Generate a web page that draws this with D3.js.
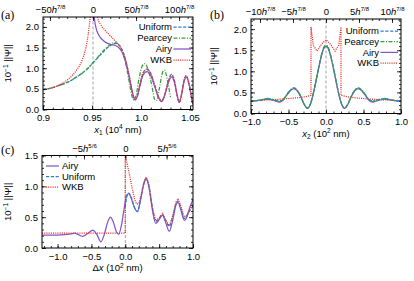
<!DOCTYPE html>
<html><head><meta charset="utf-8">
<script src="https://cdn.jsdelivr.net/npm/d3@7"></script>
<style>body{margin:0;background:#fff} text{font-family:"Liberation Sans",Arial,sans-serif}</style>
</head><body><svg id="c" width="414" height="281"></svg>
<script>
// ---------- Panel (a) data: x1 in 10^4 nm, y = 10^-1 ||Psi|| ----------
const aUniform = [[0.900,0.48],[0.905,0.50],[0.910,0.53],[0.915,0.57],[0.920,0.61],[0.925,0.66],[0.930,0.72],[0.935,0.80],[0.940,0.88],[0.945,0.98],[0.950,1.10],[0.955,1.23],[0.960,1.36],[0.965,1.48],[0.970,1.57],[0.974,1.60],[0.978,1.55],[0.982,1.37],[0.986,1.03],[0.989,0.68],[0.992,0.34],[0.994,0.24],[0.996,0.32],[0.999,0.62],[1.002,0.88],[1.006,0.98],[1.010,0.87],[1.014,0.58],[1.018,0.30],[1.021,0.20],[1.024,0.35],[1.028,0.70],[1.031,0.85],[1.034,0.70],[1.037,0.33],[1.039,0.17],[1.041,0.33],[1.044,0.72],[1.046,0.82],[1.049,0.62],[1.052,0.22],[1.053,0.12]];
const aPearcey = [[0.900,0.48],[0.905,0.50],[0.910,0.53],[0.915,0.57],[0.920,0.61],[0.925,0.66],[0.930,0.72],[0.935,0.80],[0.940,0.88],[0.945,0.98],[0.950,1.11],[0.955,1.24],[0.960,1.38],[0.965,1.50],[0.970,1.59],[0.973,1.62],[0.977,1.58],[0.981,1.40],[0.985,1.04],[0.988,0.66],[0.991,0.30],[0.993,0.22],[0.995,0.35],[0.998,0.75],[1.001,1.04],[1.004,1.11],[1.007,0.98],[1.011,0.58],[1.014,0.24],[1.016,0.22],[1.019,0.55],[1.022,0.90],[1.024,0.95],[1.027,0.70],[1.030,0.30]];
const aAiry = [[0.9515,2.40],[0.953,2.10],[0.955,1.90],[0.958,1.76],[0.962,1.66],[0.966,1.60],[0.970,1.57],[0.974,1.55],[0.978,1.48],[0.982,1.32],[0.986,1.00],[0.989,0.66],[0.992,0.33],[0.994,0.23],[0.996,0.30],[0.999,0.58],[1.002,0.83],[1.006,0.92],[1.010,0.82],[1.014,0.55],[1.018,0.28],[1.021,0.19],[1.024,0.33],[1.028,0.66],[1.031,0.79],[1.034,0.66],[1.037,0.32],[1.039,0.17],[1.041,0.32],[1.044,0.68],[1.046,0.79],[1.049,0.60],[1.052,0.22],[1.053,0.12]];
const aWKBleft = [[0.900,0.48],[0.905,0.50],[0.910,0.53],[0.915,0.58],[0.920,0.64],[0.925,0.72],[0.930,0.83],[0.935,0.98],[0.940,1.20],[0.943,1.42],[0.946,1.80],[0.948,2.20],[0.949,2.40]];
const aWKBright = [[0.9545,2.40],[0.956,2.20],[0.959,2.05],[0.962,1.95],[0.966,1.85],[0.970,1.75],[0.974,1.65],[0.978,1.54],[0.982,1.37],[0.986,1.03],[0.989,0.68],[0.992,0.34],[0.994,0.24],[0.996,0.32],[0.999,0.62],[1.002,0.88],[1.006,0.98],[1.010,0.87],[1.014,0.58],[1.018,0.30],[1.021,0.20],[1.024,0.35],[1.028,0.70],[1.031,0.85],[1.034,0.70],[1.037,0.33],[1.039,0.17],[1.041,0.33],[1.044,0.72],[1.046,0.82],[1.049,0.62],[1.052,0.22],[1.053,0.12]];
const aBottomTicks = [0.9,0.95,1.0,1.05];
const aBottomLabels = ["0.9","0.95","1.0","1.05"];
const aTopTicks = [-50,0,50,100];   // in units of h^{7/8}
const aYTicks = [0,0.5,1.0,1.5,2.0];

// ---------- Panel (b) data: x2 in 10^2 nm ----------
const bUniform = [[-1.0,0.30],[-0.95,0.30],[-0.90,0.31],[-0.85,0.33],[-0.78,0.35],[-0.72,0.33],[-0.66,0.30],[-0.62,0.29],[-0.57,0.33],[-0.52,0.45],[-0.47,0.56],[-0.43,0.60],[-0.39,0.56],[-0.34,0.42],[-0.29,0.22],[-0.25,0.13],[-0.21,0.22],[-0.16,0.55],[-0.11,0.98],[-0.06,1.38],[-0.03,1.55],[0.0,1.60],[0.03,1.55],[0.06,1.38],[0.11,0.98],[0.16,0.55],[0.21,0.22],[0.25,0.13],[0.29,0.22],[0.34,0.42],[0.39,0.56],[0.43,0.60],[0.47,0.56],[0.52,0.45],[0.57,0.33],[0.62,0.29],[0.66,0.30],[0.72,0.33],[0.78,0.35],[0.85,0.33],[0.90,0.31],[0.95,0.30],[1.0,0.30]];
const bPearcey = [[-1.0,0.30],[-0.95,0.30],[-0.90,0.31],[-0.85,0.33],[-0.78,0.36],[-0.72,0.34],[-0.66,0.31],[-0.62,0.30],[-0.57,0.34],[-0.52,0.46],[-0.47,0.57],[-0.43,0.61],[-0.39,0.57],[-0.34,0.42],[-0.29,0.22],[-0.25,0.13],[-0.21,0.22],[-0.16,0.55],[-0.11,0.99],[-0.06,1.40],[-0.03,1.57],[0.0,1.62],[0.03,1.57],[0.06,1.40],[0.11,0.99],[0.16,0.55],[0.21,0.22],[0.25,0.13],[0.29,0.22],[0.34,0.42],[0.39,0.57],[0.43,0.61],[0.47,0.57],[0.52,0.46],[0.57,0.34],[0.62,0.30],[0.66,0.31],[0.72,0.34],[0.78,0.36],[0.85,0.33],[0.90,0.31],[0.95,0.30],[1.0,0.30]];
const bAiry = [[-1.0,0.30],[-0.95,0.30],[-0.90,0.31],[-0.85,0.33],[-0.78,0.34],[-0.72,0.32],[-0.66,0.29],[-0.62,0.27],[-0.57,0.32],[-0.52,0.44],[-0.47,0.55],[-0.43,0.59],[-0.39,0.55],[-0.34,0.41],[-0.29,0.21],[-0.25,0.12],[-0.21,0.21],[-0.16,0.54],[-0.11,0.97],[-0.06,1.37],[-0.03,1.54],[0.0,1.59],[0.03,1.54],[0.06,1.37],[0.11,0.97],[0.16,0.54],[0.21,0.21],[0.25,0.12],[0.29,0.21],[0.34,0.41],[0.39,0.55],[0.43,0.59],[0.47,0.55],[0.52,0.44],[0.57,0.32],[0.62,0.27],[0.66,0.29],[0.72,0.32],[0.78,0.34],[0.85,0.33],[0.90,0.31],[0.95,0.30],[1.0,0.30]];
const bWKB = [[-1.0,0.30],[-0.8,0.32],[-0.6,0.34],[-0.4,0.37],[-0.3,0.39],[-0.2,0.43],[-0.2,2.05],[-0.17,1.62],[-0.12,1.48],[-0.06,1.64],[0.0,1.75],[0.06,1.64],[0.12,1.48],[0.17,1.62],[0.2,2.05],[0.2,0.43],[0.3,0.39],[0.4,0.37],[0.6,0.34],[0.8,0.32],[1.0,0.30]];
const bBottomTicks = [-1.0,-0.5,0.0,0.5,1.0];
const bTopTicks = [-10,-5,0,5,10];  // in units of h^{7/8}
const bYTicks = [0,0.5,1.0,1.5,2.0];

// ---------- Panel (c) data: Δx in 10^2 nm ----------
const cAiry = [[-1.23,0.21],[-1.0,0.21],[-0.9,0.215],[-0.8,0.23],[-0.75,0.24],[-0.70,0.22],[-0.63,0.19],[-0.56,0.23],[-0.48,0.29],[-0.42,0.22],[-0.36,0.10],[-0.31,0.22],[-0.26,0.42],[-0.22,0.50],[-0.18,0.43],[-0.13,0.26],[-0.10,0.22],[-0.06,0.35],[-0.02,0.62],[0.02,0.85],[0.05,0.88],[0.09,0.80],[0.14,0.64],[0.18,0.59],[0.22,0.75],[0.27,1.02],[0.31,1.12],[0.35,0.98],[0.40,0.62],[0.45,0.40],[0.50,0.46],[0.55,0.53],[0.60,0.40],[0.65,0.27],[0.70,0.45],[0.75,0.70],[0.78,0.74],[0.82,0.62],[0.87,0.45],[0.90,0.48],[0.95,0.65],[1.0,0.79]];
const cUniform = [[0.0,0.66],[0.02,0.82],[0.05,0.89],[0.09,0.82],[0.14,0.65],[0.18,0.59],[0.22,0.76],[0.27,1.04],[0.31,1.13],[0.35,1.00],[0.40,0.65],[0.45,0.43],[0.50,0.48],[0.55,0.54],[0.60,0.44],[0.65,0.35],[0.70,0.50],[0.75,0.72],[0.78,0.76],[0.82,0.65],[0.87,0.48],[0.90,0.50],[0.95,0.60],[1.0,0.68]];
const cWKB = [[-1.23,0.24],[-0.5,0.24],[0.0,0.24],[0.0,1.50],[0.05,1.25],[0.10,0.98],[0.14,0.78],[0.17,0.71],[0.20,0.72],[0.24,0.88],[0.28,1.08],[0.31,1.15],[0.35,1.02],[0.40,0.66],[0.45,0.44],[0.50,0.49],[0.55,0.56],[0.60,0.45],[0.65,0.36],[0.70,0.52],[0.75,0.75],[0.78,0.80],[0.82,0.68],[0.87,0.50],[0.90,0.52],[0.95,0.62],[1.0,0.70]];
const cBottomTicks = [-1.0,-0.5,0.0,0.5,1.0];
const cTopTicks = [-5,0,5];  // in units of h^{5/6}
const cYTicks = [0,0.5,1.0,1.5];

const COL = {uniform:"#2f7fd0", pearcey:"#3a9e3a", airy:"#8656c6", wkb:"#e8302e"};
const DASH = {uniform:"3.2,1.6", pearcey:"4,1.5,1,1.5", airy:null, wkb:"1.1,1.1"};

const svg = d3.select("#c");
const FS = 9.5;

function fmt1(v){ return d3.format(".1f")(v).replace("-","\u2212"); }

function panel(o){
  const g = svg.append("g");
  const x = d3.scaleLinear().domain(o.xd).range([o.L,o.R]);
  const y = d3.scaleLinear().domain(o.yd).range([o.B,o.T]);
  const clipId = "clip"+o.id;
  svg.append("clipPath").attr("id",clipId).append("rect")
    .attr("x",o.L).attr("y",o.T).attr("width",o.R-o.L).attr("height",o.B-o.T);
  g.append("line").attr("x1",x(o.ref)).attr("x2",x(o.ref)).attr("y1",o.B).attr("y2",o.T)
    .attr("stroke","#999").attr("stroke-width",0.9).attr("stroke-dasharray","3,2");
  const cg = g.append("g").attr("clip-path",`url(#${clipId})`);
  o.series.forEach(s=>{
    const line = d3.line().x(d=>x(d[0])).y(d=>y(d[1])).curve(s.linear?d3.curveLinear:d3.curveMonotoneX);
    cg.append("path").attr("d",line(s.data)).attr("fill","none")
      .attr("stroke",COL[s.k]).attr("stroke-width",1.25)
      .attr("stroke-dasharray",DASH[s.k]);
  });
  g.append("rect").attr("x",o.L).attr("y",o.T).attr("width",o.R-o.L).attr("height",o.B-o.T)
    .attr("fill","none").attr("stroke","#000").attr("stroke-width",1);
  g.append("g").attr("transform",`translate(0,${o.B})`)
    .call(d3.axisBottom(x).tickValues(o.bt).tickSize(-4).tickPadding(5).tickFormat((d,i)=>o.bl?o.bl[i]:fmt1(d)));
  g.append("g").attr("transform",`translate(0,${o.B})`)
    .call(d3.axisBottom(x).tickValues(d3.range(o.xd[0],o.xd[1]+1e-9,o.bminor).map(v=>Math.round(v/o.bminor)*o.bminor).filter(v=>v>=o.xd[0]&&v<=o.xd[1])).tickSize(-2).tickFormat(""));
  g.append("g").attr("transform",`translate(${o.L},0)`)
    .call(d3.axisLeft(y).tickValues(o.yt).tickSize(-4).tickPadding(4).tickFormat(fmt1));
  g.append("g").attr("transform",`translate(${o.L},0)`)
    .call(d3.axisLeft(y).tickValues(d3.range(0,o.yd[1],0.1)).tickSize(-2).tickFormat(""));
  g.append("g").attr("transform",`translate(${o.R},0)`)
    .call(d3.axisRight(y).tickValues(o.yt).tickSize(-4).tickFormat(""));
  g.append("g").attr("transform",`translate(${o.R},0)`)
    .call(d3.axisRight(y).tickValues(d3.range(0,o.yd[1],0.1)).tickSize(-2).tickFormat(""));
  const tScale = d3.scaleLinear().domain([(o.xd[0]-o.ref)/o.hu,(o.xd[1]-o.ref)/o.hu]).range([o.L,o.R]);
  const td = tScale.domain();
  const tMinor = d3.range(Math.ceil(td[0]/o.tminor)*o.tminor, td[1], o.tminor);
  g.append("g").attr("transform",`translate(0,${o.T})`)
    .call(d3.axisTop(tScale).tickValues(tMinor).tickSize(-2).tickFormat(""));
  const tAx = g.append("g").attr("transform",`translate(0,${o.T})`)
    .call(d3.axisTop(tScale).tickValues(o.tt).tickSize(-4).tickPadding(3).tickFormat(""));
  tAx.selectAll(".tick").each(function(d){
    const t = d3.select(this).append("text").attr("y",-4).attr("fill","#000")
      .attr("text-anchor","middle").style("font-size",FS+"px");
    if(d===0){ t.text("0"); return; }
    t.append("tspan").text((d<0?"\u2212":"")+Math.abs(d));
    t.append("tspan").style("font-style","italic").text("h");
    t.append("tspan").attr("dy",-4).style("font-size","6px").text(o.hexp);
  });
  g.selectAll(".domain").remove();
  g.selectAll(".tick line").attr("stroke","#000").attr("stroke-width",0.8);
  g.selectAll(".tick text").style("font-size",FS+"px").style("font-family","'Liberation Sans',Arial,sans-serif");
  svg.append("text").attr("x",o.plx).attr("y",o.ply).text(o.pl)
    .style("font-family","'Liberation Serif','DejaVu Serif',serif").style("font-size","12px");
  const yl = svg.append("text").attr("transform",`translate(${o.ylx},${(o.T+o.B)/2}) rotate(-90)`)
    .attr("text-anchor","middle").style("font-size",FS+"px");
  yl.append("tspan").text("10");
  yl.append("tspan").attr("dy",-3.5).style("font-size","6.5px").text("\u22121");
  yl.append("tspan").attr("dy",3.5).text(" ||\u03A8||");
  const xl = svg.append("text").attr("x",(o.L+o.R)/2).attr("y",o.B+23).attr("text-anchor","middle").style("font-size",FS+"px");
  o.xlabel(xl);
  o.legend.forEach((it,i)=>{
    const yy = o.lg.y + i*o.lg.dy;
    if(o.lg.right){
      svg.append("text").attr("x",o.lg.x).attr("y",yy+3.3).attr("text-anchor","end").style("font-size",FS+"px").text(it.name);
      svg.append("line").attr("x1",o.lg.x+1.5).attr("x2",o.lg.x+19).attr("y1",yy).attr("y2",yy)
        .attr("stroke",COL[it.k]).attr("stroke-width",1.25).attr("stroke-dasharray",DASH[it.k]);
    } else {
      svg.append("line").attr("x1",o.lg.x).attr("x2",o.lg.x+13).attr("y1",yy).attr("y2",yy)
        .attr("stroke",COL[it.k]).attr("stroke-width",1.25).attr("stroke-dasharray",DASH[it.k]);
      svg.append("text").attr("x",o.lg.x+16).attr("y",yy+3.3).style("font-size",FS+"px").text(it.name);
    }
  });
}

const legend4 = [{name:"Uniform",k:"uniform"},{name:"Pearcey",k:"pearcey"},{name:"Airy",k:"airy"},{name:"WKB",k:"wkb"}];

panel({id:"a", L:43, R:193, T:17, B:109.5, xd:[0.9,1.053], yd:[0,2.24], ref:0.951, hu:0.000878, hexp:"7/8",
  bt:aBottomTicks, bl:aBottomLabels, bminor:0.01, yt:aYTicks, tt:aTopTicks, tminor:10,
  series:[{k:"uniform",data:aUniform},{k:"pearcey",data:aPearcey},{k:"airy",data:aAiry},{k:"wkb",data:aWKBleft},{k:"wkb",data:aWKBright}],
  pl:"(a)", plx:1, ply:19, ylx:11,
  xlabel:t=>{t.append("tspan").style("font-style","italic").text("x");t.append("tspan").attr("dy",2.5).style("font-size","6.5px").text("1");
    t.append("tspan").attr("dy",-2.5).text(" (10");t.append("tspan").attr("dy",-3.5).style("font-size","6.5px").text("4");t.append("tspan").attr("dy",3.5).text(" nm)");},
  legend:legend4, lg:{x:172,y:27,dy:11,right:true}});

panel({id:"b", L:251, R:401, T:19, B:113.5, xd:[-1,1], yd:[0,2.24], ref:0, hu:0.088, hexp:"7/8",
  bt:bBottomTicks, bminor:0.1, yt:bYTicks, tt:bTopTicks, tminor:1,
  series:[{k:"wkb",data:bWKB,linear:true},{k:"airy",data:bAiry},{k:"uniform",data:bUniform},{k:"pearcey",data:bPearcey}],
  pl:"(b)", plx:210, ply:19, ylx:217,
  xlabel:t=>{t.append("tspan").style("font-style","italic").text("x");t.append("tspan").attr("dy",2.5).style("font-size","6.5px").text("2");
    t.append("tspan").attr("dy",-2.5).text(" (10");t.append("tspan").attr("dy",-3.5).style("font-size","6.5px").text("2");t.append("tspan").attr("dy",3.5).text(" nm)");},
  legend:legend4, lg:{x:379,y:31,dy:10.7,right:true}});

panel({id:"c", L:42, R:193, T:155.5, B:248, xd:[-1.23,1], yd:[0,1.5], ref:0, hu:0.122, hexp:"5/6",
  bt:cBottomTicks, bminor:0.1, yt:cYTicks, tt:cTopTicks, tminor:1,
  series:[{k:"airy",data:cAiry},{k:"uniform",data:cUniform},{k:"wkb",data:cWKB,linear:true}],
  pl:"(c)", plx:1, ply:154, ylx:11,
  xlabel:t=>{t.append("tspan").text("\u0394");t.append("tspan").style("font-style","italic").text("x");
    t.append("tspan").text(" (10");t.append("tspan").attr("dy",-3.5).style("font-size","6.5px").text("2");t.append("tspan").attr("dy",3.5).text(" nm)");},
  legend:[{name:"Airy",k:"airy"},{name:"Uniform",k:"uniform"},{name:"WKB",k:"wkb"}], lg:{x:46,y:166,dy:10.5,right:false}});
</script></body></html>
